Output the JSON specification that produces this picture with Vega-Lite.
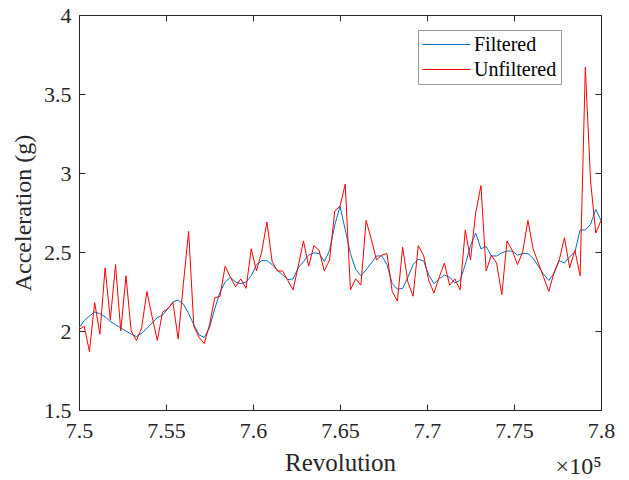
{
  "$schema": "https://vega.github.io/schema/vega-lite/v6.json",
  "width": 522,
  "height": 395,
  "autosize": {"type": "none"},
  "padding": {"left": 79, "top": 15, "right": 28, "bottom": 70},
  "background": "white",
  "data": {"values": [
    {"r": 750000, "Filtered": 2.02, "Unfiltered": 2.01},
    {"r": 750300, "Filtered": 2.065, "Unfiltered": 2.03},
    {"r": 750600, "Filtered": 2.095, "Unfiltered": 1.87},
    {"r": 750900, "Filtered": 2.12, "Unfiltered": 2.18},
    {"r": 751200, "Filtered": 2.11, "Unfiltered": 1.98},
    {"r": 751500, "Filtered": 2.09, "Unfiltered": 2.40},
    {"r": 751800, "Filtered": 2.06, "Unfiltered": 2.07},
    {"r": 752100, "Filtered": 2.04, "Unfiltered": 2.42},
    {"r": 752400, "Filtered": 2.02, "Unfiltered": 2.00},
    {"r": 752700, "Filtered": 2.0, "Unfiltered": 2.35},
    {"r": 753000, "Filtered": 1.98, "Unfiltered": 2.00},
    {"r": 753300, "Filtered": 1.965, "Unfiltered": 1.94},
    {"r": 753600, "Filtered": 1.985, "Unfiltered": 2.02},
    {"r": 753900, "Filtered": 2.017, "Unfiltered": 2.25},
    {"r": 754200, "Filtered": 2.05, "Unfiltered": 2.09},
    {"r": 754500, "Filtered": 2.085, "Unfiltered": 1.94},
    {"r": 754800, "Filtered": 2.10, "Unfiltered": 2.12},
    {"r": 755100, "Filtered": 2.14, "Unfiltered": 2.14},
    {"r": 755400, "Filtered": 2.185, "Unfiltered": 2.18},
    {"r": 755700, "Filtered": 2.195, "Unfiltered": 1.95},
    {"r": 756000, "Filtered": 2.17, "Unfiltered": 2.30},
    {"r": 756300, "Filtered": 2.11, "Unfiltered": 2.63},
    {"r": 756600, "Filtered": 2.04, "Unfiltered": 2.03},
    {"r": 756900, "Filtered": 1.975, "Unfiltered": 1.96},
    {"r": 757200, "Filtered": 1.96, "Unfiltered": 1.92},
    {"r": 757500, "Filtered": 2.02, "Unfiltered": 2.04},
    {"r": 757800, "Filtered": 2.14, "Unfiltered": 2.21},
    {"r": 758100, "Filtered": 2.245, "Unfiltered": 2.22},
    {"r": 758400, "Filtered": 2.31, "Unfiltered": 2.41},
    {"r": 758700, "Filtered": 2.34, "Unfiltered": 2.34},
    {"r": 759000, "Filtered": 2.31, "Unfiltered": 2.28},
    {"r": 759300, "Filtered": 2.30, "Unfiltered": 2.33},
    {"r": 759600, "Filtered": 2.31, "Unfiltered": 2.27},
    {"r": 759900, "Filtered": 2.35, "Unfiltered": 2.52},
    {"r": 760200, "Filtered": 2.42, "Unfiltered": 2.38},
    {"r": 760500, "Filtered": 2.445, "Unfiltered": 2.50},
    {"r": 760800, "Filtered": 2.445, "Unfiltered": 2.69},
    {"r": 761100, "Filtered": 2.42, "Unfiltered": 2.44},
    {"r": 761400, "Filtered": 2.385, "Unfiltered": 2.38},
    {"r": 761700, "Filtered": 2.355, "Unfiltered": 2.38},
    {"r": 762000, "Filtered": 2.325, "Unfiltered": 2.32},
    {"r": 762300, "Filtered": 2.33, "Unfiltered": 2.26},
    {"r": 762600, "Filtered": 2.40, "Unfiltered": 2.41},
    {"r": 762900, "Filtered": 2.44, "Unfiltered": 2.57},
    {"r": 763200, "Filtered": 2.48, "Unfiltered": 2.41},
    {"r": 763500, "Filtered": 2.495, "Unfiltered": 2.54},
    {"r": 763800, "Filtered": 2.49, "Unfiltered": 2.51},
    {"r": 764100, "Filtered": 2.44, "Unfiltered": 2.38},
    {"r": 764400, "Filtered": 2.51, "Unfiltered": 2.45},
    {"r": 764700, "Filtered": 2.67, "Unfiltered": 2.76},
    {"r": 765000, "Filtered": 2.79, "Unfiltered": 2.79},
    {"r": 765300, "Filtered": 2.64, "Unfiltered": 2.93},
    {"r": 765600, "Filtered": 2.49, "Unfiltered": 2.26},
    {"r": 765900, "Filtered": 2.39, "Unfiltered": 2.33},
    {"r": 766200, "Filtered": 2.35, "Unfiltered": 2.29},
    {"r": 766500, "Filtered": 2.386, "Unfiltered": 2.70},
    {"r": 766800, "Filtered": 2.43, "Unfiltered": 2.58},
    {"r": 767100, "Filtered": 2.475, "Unfiltered": 2.45},
    {"r": 767400, "Filtered": 2.475, "Unfiltered": 2.48},
    {"r": 767700, "Filtered": 2.42, "Unfiltered": 2.49},
    {"r": 768000, "Filtered": 2.30, "Unfiltered": 2.25},
    {"r": 768300, "Filtered": 2.265, "Unfiltered": 2.19},
    {"r": 768600, "Filtered": 2.27, "Unfiltered": 2.53},
    {"r": 768900, "Filtered": 2.34, "Unfiltered": 2.31},
    {"r": 769200, "Filtered": 2.42, "Unfiltered": 2.22},
    {"r": 769500, "Filtered": 2.454, "Unfiltered": 2.54},
    {"r": 769800, "Filtered": 2.445, "Unfiltered": 2.48},
    {"r": 770100, "Filtered": 2.355, "Unfiltered": 2.32},
    {"r": 770400, "Filtered": 2.30, "Unfiltered": 2.24},
    {"r": 770700, "Filtered": 2.33, "Unfiltered": 2.34},
    {"r": 771000, "Filtered": 2.355, "Unfiltered": 2.43},
    {"r": 771300, "Filtered": 2.34, "Unfiltered": 2.29},
    {"r": 771600, "Filtered": 2.305, "Unfiltered": 2.33},
    {"r": 771900, "Filtered": 2.32, "Unfiltered": 2.26},
    {"r": 772200, "Filtered": 2.42, "Unfiltered": 2.64},
    {"r": 772500, "Filtered": 2.54, "Unfiltered": 2.45},
    {"r": 772800, "Filtered": 2.62, "Unfiltered": 2.75},
    {"r": 773100, "Filtered": 2.52, "Unfiltered": 2.92},
    {"r": 773400, "Filtered": 2.535, "Unfiltered": 2.38},
    {"r": 773700, "Filtered": 2.475, "Unfiltered": 2.48},
    {"r": 774000, "Filtered": 2.475, "Unfiltered": 2.43},
    {"r": 774300, "Filtered": 2.495, "Unfiltered": 2.23},
    {"r": 774600, "Filtered": 2.506, "Unfiltered": 2.57},
    {"r": 774900, "Filtered": 2.506, "Unfiltered": 2.51},
    {"r": 775200, "Filtered": 2.48, "Unfiltered": 2.42},
    {"r": 775500, "Filtered": 2.49, "Unfiltered": 2.50},
    {"r": 775800, "Filtered": 2.49, "Unfiltered": 2.70},
    {"r": 776100, "Filtered": 2.46, "Unfiltered": 2.52},
    {"r": 776400, "Filtered": 2.41, "Unfiltered": 2.43},
    {"r": 776700, "Filtered": 2.36, "Unfiltered": 2.34},
    {"r": 777000, "Filtered": 2.32, "Unfiltered": 2.25},
    {"r": 777300, "Filtered": 2.365, "Unfiltered": 2.37},
    {"r": 777600, "Filtered": 2.445, "Unfiltered": 2.45},
    {"r": 777900, "Filtered": 2.43, "Unfiltered": 2.59},
    {"r": 778200, "Filtered": 2.47, "Unfiltered": 2.40},
    {"r": 778500, "Filtered": 2.50, "Unfiltered": 2.51},
    {"r": 778800, "Filtered": 2.64, "Unfiltered": 2.35},
    {"r": 779100, "Filtered": 2.64, "Unfiltered": 3.67},
    {"r": 779400, "Filtered": 2.675, "Unfiltered": 2.95},
    {"r": 779700, "Filtered": 2.77, "Unfiltered": 2.62},
    {"r": 780000, "Filtered": 2.70, "Unfiltered": 2.70}
  ]},
  "transform": [{"fold": ["Filtered", "Unfiltered"], "as": ["series", "accel"]}],
  "layer": [
    {
      "transform": [{"filter": "datum.series == 'Filtered'"}],
      "mark": {"type": "line", "strokeWidth": 1, "clip": true},
      "encoding": {
        "x": {"field": "r", "type": "quantitative",
          "scale": {"domain": [750000, 780000], "nice": false, "zero": false},
          "axis": {"orient": "top", "labels": false, "values": [750000, 755000, 760000, 765000, 770000, 775000, 780000],
            "title": "×10⁵", "titleAnchor": "end", "titleAlign": "right", "titleBaseline": "alphabetic", "titleY": 458, "titleFontSize": 24}},
        "y": {"field": "accel", "type": "quantitative",
          "scale": {"domain": [1.5, 4], "nice": false, "zero": false},
          "axis": {"orient": "right", "labels": false, "title": null, "values": [1.5, 2, 2.5, 3, 3.5, 4]}},
        "color": {"field": "series", "type": "nominal",
          "scale": {"domain": ["Filtered", "Unfiltered"], "range": ["#0072BD", "#FF0000"]},
          "legend": {"title": null}}
      }
    },
    {
      "transform": [{"filter": "datum.series == 'Unfiltered'"}],
      "mark": {"type": "line", "strokeWidth": 1, "clip": true},
      "encoding": {
        "x": {"field": "r", "type": "quantitative",
          "axis": {"orient": "bottom", "title": "Revolution", "titleFontSize": 25, "values": [750000, 755000, 760000, 765000, 770000, 775000, 780000],
            "labelExpr": "format(datum.value / 100000, '.3~f')", "labelFlush": false, "labelPadding": 16, "titlePadding": 9}},
        "y": {"field": "accel", "type": "quantitative",
          "axis": {"orient": "left", "title": "Acceleration (g)", "values": [1.5, 2, 2.5, 3, 3.5, 4], "format": "~g",
            "labelPadding": 14, "titlePadding": 8}},
        "color": {"field": "series", "type": "nominal"}
      }
    }
  ],
  "resolve": {"axis": {"x": "independent", "y": "independent"}},
  "config": {
    "font": "Liberation Serif",
    "view": {"stroke": null},
    "axis": {
      "grid": false, "tickSize": -6, "domainColor": "#262626", "tickColor": "#262626",
      "labelColor": "#262626", "titleColor": "#262626", "labelFont": "Liberation Serif", "titleFont": "Liberation Serif",
      "labelFontSize": 22, "titleFontSize": 24, "titleFontWeight": "normal", "domainWidth": 1, "tickWidth": 1
    },
    "legend": {
      "orient": "none", "legendX": 339, "legendY": 15, "padding": 4,
      "strokeColor": "#999", "fillColor": "white",
      "labelFont": "Liberation Serif", "labelFontSize": 20, "labelColor": "black",
      "symbolType": "M-2.4,0H2.4", "symbolSize": 400, "symbolStrokeWidth": 1, "symbolOffset": 14,
      "rowPadding": 4, "labelOffset": 17
    }
  }
}
